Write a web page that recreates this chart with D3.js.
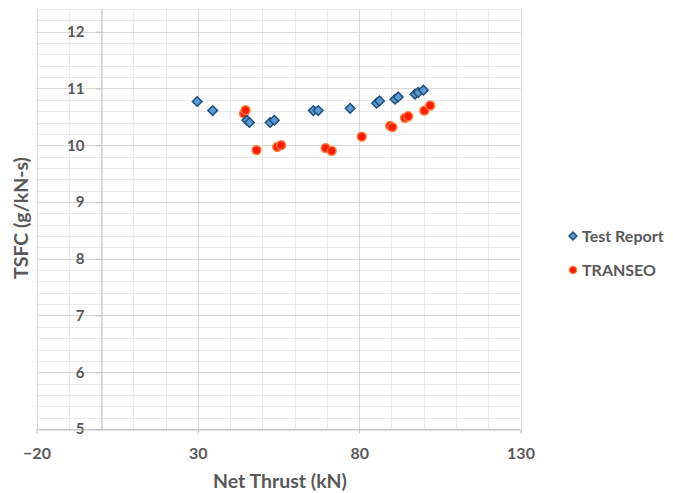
<!DOCTYPE html>
<html>
<head>
<meta charset="utf-8">
<script src="https://cdn.jsdelivr.net/npm/d3@7"></script>
<style>
  body { margin: 0; background: #fff; }
  svg { display: block; }
  text { font-family: Lato, "Open Sans", sans-serif; font-weight: bold; fill: #595959; }
</style>
</head>
<body>
<svg id="chart" width="673" height="493"></svg>
<script>
// ---- data ----
const testReportThrust = [29.8, 34.6, 45.2, 46.0, 52.4, 53.7, 65.8, 67.3, 77.2, 85.4, 86.3, 91.1, 92.1, 97.3, 98.3, 99.9];
const testReportTSFC   = [10.77, 10.61, 10.44, 10.40, 10.40, 10.44, 10.61, 10.61, 10.65, 10.74, 10.78, 10.81, 10.85, 10.90, 10.93, 10.97];
const transeoThrust    = [44.3, 44.8, 48.2, 54.6, 55.8, 69.6, 71.5, 80.8, 89.6, 90.3, 94.2, 95.2, 100.2, 102.0];
const transeoTSFC      = [10.56, 10.62, 9.915, 9.97, 10.00, 9.95, 9.90, 10.15, 10.34, 10.32, 10.48, 10.51, 10.61, 10.70];
const seriesNames = ["Test Report", "TRANSEO"];
const xTickValues = [-20, 30, 80, 130];
const yTickValues = [5, 6, 7, 8, 9, 10, 11, 12];
const xTitle = "Net Thrust (kN)";
const yTitle = "TSFC (g/kN-s)";

const svg = d3.select("#chart");
const x = d3.scaleLinear().domain([-20, 130]).range([36.5, 520.5]);
const y = d3.scaleLinear().domain([5, 12.4]).range([429, 9]);

const grid = svg.append("g");
// minor horizontal gridlines
grid.selectAll("line.hmin").data(d3.range(5, 12.41, 0.2)).join("line")
  .attr("x1", x(-20)).attr("x2", x(130))
  .attr("y1", d => Math.round(y(d)) + 0.5).attr("y2", d => Math.round(y(d)) + 0.5)
  .attr("stroke", "#e9e9e9").attr("stroke-width", 1);
// minor vertical gridlines
grid.selectAll("line.vmin").data(d3.range(-20, 131, 10)).join("line")
  .attr("y1", y(12.4)).attr("y2", y(5))
  .attr("x1", d => Math.round(x(d)) + 0.5).attr("x2", d => Math.round(x(d)) + 0.5)
  .attr("stroke", "#e9e9e9").attr("stroke-width", 1);
// major horizontal gridlines
grid.selectAll("line.hmaj").data(yTickValues).join("line")
  .attr("x1", x(-20)).attr("x2", x(130))
  .attr("y1", d => Math.round(y(d)) + 0.5).attr("y2", d => Math.round(y(d)) + 0.5)
  .attr("stroke", "#d9d9d9").attr("stroke-width", 1);
// major vertical gridlines
grid.selectAll("line.vmaj").data(xTickValues).join("line")
  .attr("y1", y(12.4)).attr("y2", y(5))
  .attr("x1", d => Math.round(x(d)) + 0.5).attr("x2", d => Math.round(x(d)) + 0.5)
  .attr("stroke", "#d9d9d9").attr("stroke-width", 1);

// y axis crossing at x = 0
const yAxis = svg.append("g")
  .attr("transform", `translate(${Math.round(x(0)) + 0.5},0)`)
  .call(d3.axisLeft(y).tickValues(yTickValues).tickSize(6).tickPadding(11).tickSizeOuter(0));
yAxis.select(".domain").attr("stroke", "#bfbfbf");
yAxis.selectAll(".tick line").attr("stroke", "#bfbfbf");
yAxis.selectAll(".tick text").attr("font-size", 15).attr("fill", "#595959")
  .style("font-family", 'Lato, "Open Sans", sans-serif').style("font-weight", "bold");

// x axis at y = 5
const xAxis = svg.append("g")
  .attr("transform", `translate(0,${Math.round(y(5)) + 0.5})`)
  .call(d3.axisBottom(x).tickValues(xTickValues).tickSize(4).tickPadding(14).tickSizeOuter(0));
xAxis.select(".domain").attr("stroke", "#bfbfbf");
xAxis.selectAll(".tick line").attr("stroke", "#bfbfbf");
xAxis.selectAll(".tick text").attr("font-size", 16).attr("fill", "#595959")
  .style("font-family", 'Lato, "Open Sans", sans-serif').style("font-weight", "bold");

// series
const diamond = d3.symbol().type(d3.symbolSquare).size(46);
const orangeData = transeoThrust.map((t, i) => ({ x: t, y: transeoTSFC[i] }));
const blueData = testReportThrust.map((t, i) => ({ x: t, y: testReportTSFC[i] }));

svg.append("g").selectAll("circle").data(orangeData).join("circle")
  .attr("cx", d => x(d.x)).attr("cy", d => y(d.y)).attr("r", 4.4)
  .attr("fill", "#ff1a00").attr("stroke", "#ff7b3a").attr("stroke-width", 1.5);

svg.append("g").selectAll("path").data(blueData).join("path")
  .attr("d", diamond)
  .attr("transform", d => `translate(${x(d.x)},${y(d.y)}) rotate(45)`)
  .attr("fill", "#5b9bd5").attr("stroke", "#1f4e79").attr("stroke-width", 1.5);

// legend
const leg = svg.append("g");
leg.append("path").attr("d", d3.symbol().type(d3.symbolSquare).size(30))
  .attr("transform", "translate(573,236) rotate(45)")
  .attr("fill", "#5b9bd5").attr("stroke", "#1f4e79").attr("stroke-width", 1.5);
leg.append("text").attr("x", 582).attr("y", 241.5).attr("font-size", 16).text(seriesNames[0]);
leg.append("circle").attr("cx", 573).attr("cy", 270).attr("r", 3.6)
  .attr("fill", "#ff1a00").attr("stroke", "#ff7b3a").attr("stroke-width", 1.2);
leg.append("text").attr("x", 582).attr("y", 275.5).attr("font-size", 16).text(seriesNames[1]);

// axis titles
svg.append("text").attr("x", 280).attr("y", 488).attr("text-anchor", "middle")
  .attr("font-size", 19.5).text(xTitle);
svg.append("text").attr("transform", "translate(28,218) rotate(-90)").attr("text-anchor", "middle")
  .attr("font-size", 19.5).text(yTitle);
</script>
</body>
</html>
